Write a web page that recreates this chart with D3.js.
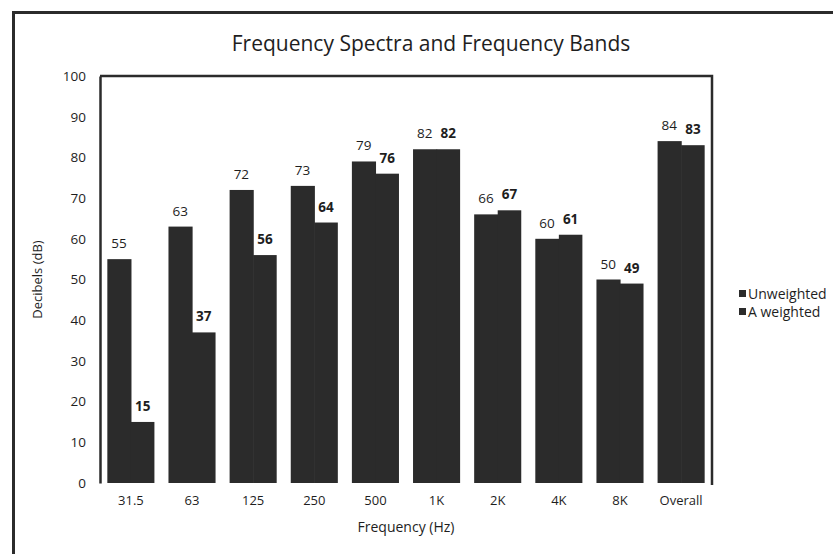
<!DOCTYPE html>
<html>
<head>
<meta charset="utf-8">
<script src="https://cdn.jsdelivr.net/npm/d3@7"></script>
<style>
  html, body { margin: 0; padding: 0; background: #fff; }
  svg { display: block; font-family: "Open Sans", "Noto Sans", sans-serif; }
</style>
</head>
<body>
<svg id="chart" width="833" height="554"></svg>
<script>
// Octave bands and measured levels
const bands = ["31.5", "63", "125", "250", "500", "1K", "2K", "4K", "8K", "Overall"];
const unweighted = [55, 63, 72, 73, 79, 82, 66, 60, 50, 84];
const aWeighted = [15, 37, 56, 64, 76, 82, 67, 61, 49, 83];
const seriesNames = ["Unweighted", "A weighted"];
const yTicks = [0, 10, 20, 30, 40, 50, 60, 70, 80, 90, 100];

const ink = "#2b2b2b";
const textInk = "#1e1e1e";
const svg = d3.select("#chart");

// Outer chart frame
svg.append("path")
  .attr("d", "M13.5,560 L13.5,12.5 L840,12.5")
  .attr("fill", "none").attr("stroke", ink).attr("stroke-width", 3);

const plot = { left: 100, right: 712, top: 76, bottom: 483 };

const x = d3.scaleBand().domain(bands)
  .range([plot.left, plot.right])
  .paddingInner(0.23).paddingOuter(0.12);
const xs = d3.scaleBand().domain(seriesNames).range([0, x.bandwidth()]);
const y = d3.scaleLinear().domain([0, 100]).range([plot.bottom, plot.top]);

// Title
svg.append("text")
  .attr("x", 431).attr("y", 51)
  .attr("text-anchor", "middle")
  .attr("font-size", 21).attr("fill", textInk)
  .text("Frequency Spectra and Frequency Bands");

// Bars
const rows = bands.map((b, i) => ({ band: b, values: [unweighted[i], aWeighted[i]] }));
const groups = svg.append("g").selectAll("g").data(rows).join("g")
  .attr("transform", d => `translate(${x(d.band)},0)`);

groups.selectAll("rect").data(d => d.values.map((v, k) => ({ v, s: seriesNames[k], k })))
  .join("rect")
  .attr("x", d => xs(d.s))
  .attr("y", d => y(d.v))
  .attr("width", d => xs.bandwidth() + (d.k === 0 ? 0.6 : 0))
  .attr("height", d => y(0) - y(d.v))
  .attr("fill", ink);

// Value labels
groups.selectAll("text").data(d => d.values.map((v, k) => ({ v, s: seriesNames[k], k })))
  .join("text")
  .attr("x", d => xs(d.s) + xs.bandwidth() / 2)
  .attr("y", d => y(d.v) - 11)
  .attr("text-anchor", "middle")
  .attr("font-size", 13.5)
  .attr("font-weight", d => d.k === 1 ? "bold" : "normal")
  .attr("fill", textInk)
  .text(d => d.v);

// Plot area border (top and right) plus axes
svg.append("path")
  .attr("d", `M${plot.left},${plot.top} L${plot.right},${plot.top} L${plot.right},${plot.bottom + 2}`)
  .attr("fill", "none").attr("stroke", ink).attr("stroke-width", 2.5);

const yAxis = svg.append("g")
  .attr("transform", `translate(${plot.left},0)`)
  .call(d3.axisLeft(y).tickValues(yTicks).tickSize(0).tickPadding(14));
yAxis.select(".domain").attr("stroke", ink).attr("stroke-width", 2.5);
yAxis.selectAll("text").attr("font-size", 13.5).attr("fill", textInk)
  .attr("font-family", "'Open Sans', sans-serif");

const xAxis = svg.append("g")
  .attr("transform", `translate(0,${plot.bottom})`)
  .call(d3.axisBottom(x).tickSize(0).tickPadding(13));
xAxis.select(".domain").remove();
xAxis.selectAll("text").attr("font-size", 13).attr("fill", textInk)
  .attr("font-family", "'Open Sans', sans-serif");

// Axis titles
svg.append("text")
  .attr("transform", `translate(42,${(plot.top + plot.bottom) / 2}) rotate(-90)`)
  .attr("text-anchor", "middle")
  .attr("font-size", 13).attr("fill", textInk)
  .text("Decibels (dB)");

svg.append("text")
  .attr("x", (plot.left + plot.right) / 2).attr("y", 532)
  .attr("text-anchor", "middle")
  .attr("font-size", 14).attr("fill", textInk)
  .text("Frequency (Hz)");

// Legend
const legend = svg.append("g").attr("transform", "translate(739,294)");
const items = legend.selectAll("g").data(seriesNames).join("g")
  .attr("transform", (d, i) => `translate(0,${i * 18})`);
items.append("rect").attr("x", 0).attr("y", -4).attr("width", 7).attr("height", 7).attr("fill", ink);
items.append("text").attr("x", 9).attr("y", 4.5)
  .attr("font-size", 14).attr("fill", textInk)
  .text(d => d);
</script>
</body>
</html>
